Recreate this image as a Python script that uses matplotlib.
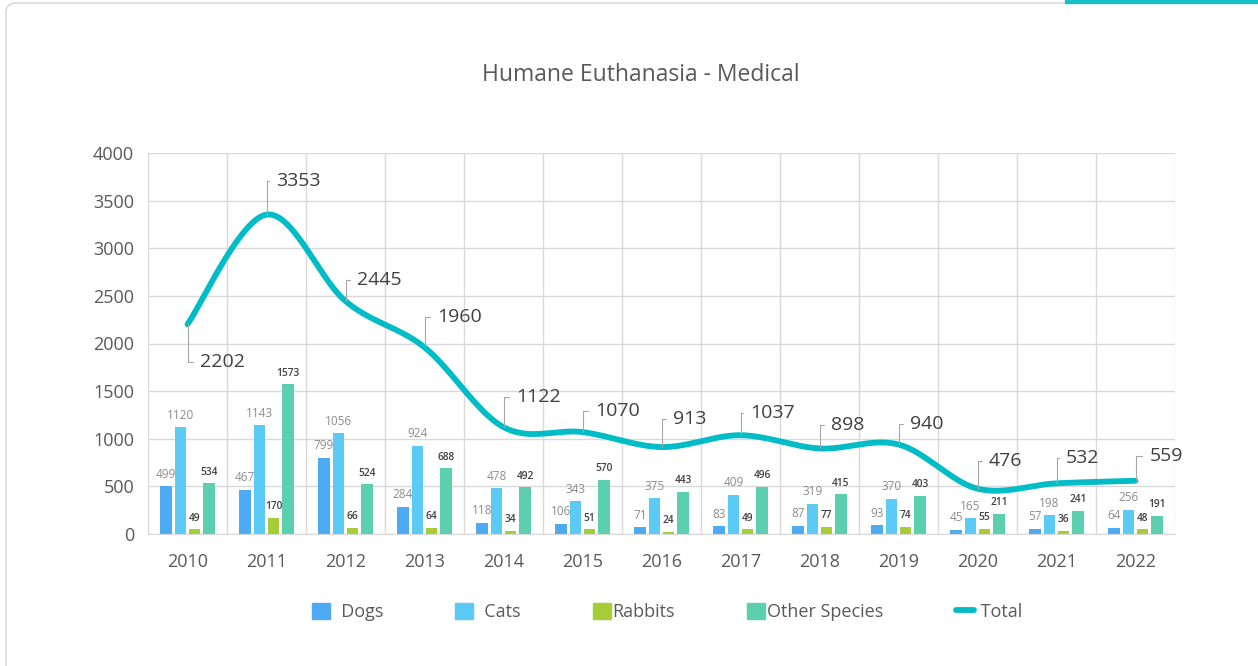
import numpy as np
import matplotlib
matplotlib.use('Agg')
import matplotlib.pyplot as plt
from matplotlib.patches import FancyBboxPatch, Rectangle, Patch
from matplotlib.lines import Line2D
from matplotlib.transforms import IdentityTransform

plt.rcParams['font.family'] = ['Open Sans', 'DejaVu Sans']

# 数据
years = ['2010', '2011', '2012', '2013', '2014', '2015', '2016',
         '2017', '2018', '2019', '2020', '2021', '2022']
dogs = [499, 467, 799, 284, 118, 106, 71, 83, 87, 93, 45, 57, 64]
cats = [1120, 1143, 1056, 924, 478, 343, 375, 409, 319, 370, 165, 198, 256]
rabbits = [49, 170, 66, 64, 34, 51, 24, 49, 77, 74, 55, 36, 48]
other = [534, 1573, 524, 688, 492, 570, 443, 496, 415, 403, 211, 241, 191]
total = [2202, 3353, 2445, 1960, 1122, 1070, 913, 1037, 898, 940, 476, 532, 559]
labels = ['  Dogs', '  Cats', 'Rabbits', 'Other Species', ' Total']

# 标签偏移 (points)
total_label_offsets = [(9, -27), (7, 24), (8, 15), (9, 22), (9, 22), (9, 15),
                       (8, 20), (7, 16), (8, 17), (8, 15), (8, 20), (7, 18), (10, 18)]

colors = ['#4DABF5', '#5BCBF5', '#A6CC37', '#5CCFB0']
line_color = '#00BCC6'

fig = plt.figure(figsize=(12.58, 6.66), dpi=100)
ax = fig.add_axes([148 / 1258, 1 - 534 / 666, (1175 - 148) / 1258, (534 - 153) / 666])

x = np.arange(len(years))
step = 0.181
width = 0.145
series = [dogs, cats, rabbits, other]
for i, s in enumerate(series):
    pos = x + (i - 1.5) * step
    ax.bar(pos, s, width, color=colors[i], zorder=2)
    for px, v in zip(pos, s):
        if i < 2:
            ax.annotate(str(v), (px, v), xytext=(0, 4), textcoords='offset points',
                        ha='center', va='bottom', fontsize=8.5, color='#8C8C8C')
        else:
            ax.annotate(str(v), (px, v), xytext=(0, 4), textcoords='offset points',
                        ha='center', va='bottom', fontsize=7.3, color='#404040',
                        fontweight='semibold')

# 平滑曲线 (Bezier)
pts = np.column_stack([x, total]).astype(float)
ext = np.vstack([pts[0], pts, pts[-1]])
curve = []
t = np.linspace(0, 1, 40)[:, None]
for k in range(len(pts) - 1):
    p0 = ext[k + 1]
    p3 = ext[k + 2]
    c1 = p0 + (ext[k + 2] - ext[k]) / 6
    c2 = p3 - (ext[k + 3] - ext[k + 1]) / 6
    seg = (1 - t) ** 3 * p0 + 3 * (1 - t) ** 2 * t * c1 + 3 * (1 - t) * t ** 2 * c2 + t ** 3 * p3
    curve.append(seg)
curve = np.vstack(curve)
ax.plot(curve[:, 0], curve[:, 1], color=line_color, lw=4.2, solid_capstyle='round', zorder=3)

for xi, v, off in zip(x, total, total_label_offsets):
    ax.annotate(str(v), (xi, v), xytext=off, textcoords='offset points',
                ha='left', va='center', fontsize=14, color='#404040',
                arrowprops=dict(arrowstyle='-', color='#A6A6A6', lw=0.8,
                                connectionstyle='angle,angleA=0,angleB=90,rad=0',
                                relpos=(0, 0.5), shrinkA=3, shrinkB=0),
                zorder=4)

ax.set_xlim(-0.5, len(years) - 0.5)
ax.set_ylim(0, 4000)
ax.set_yticks(np.arange(0, 4001, 500))
ax.set_xticks(x)
ax.set_xticklabels(years)
ax.set_xticks(np.arange(-0.5, len(years), 1), minor=True)
ax.grid(axis='y', color='#D9D9D9', lw=1, zorder=0)
ax.grid(axis='x', which='minor', color='#D9D9D9', lw=1, zorder=0)
ax.grid(axis='x', which='major', visible=False)
ax.tick_params(axis='both', which='both', length=0, labelsize=13, colors='#595959')
ax.tick_params(axis='x', pad=14)
ax.tick_params(axis='y', pad=10)
for sp in ['top', 'right', 'left']:
    ax.spines[sp].set_visible(False)
ax.spines['bottom'].set_color('#D9D9D9')

fig.text(0.509, 1 - 75 / 666, 'Humane Euthanasia - Medical', ha='center', va='center',
         fontsize=16.5, color='#595959')

handles = [Patch(color=c) for c in colors] + [
    Line2D([0], [0], color=line_color, lw=4.2, solid_capstyle='round')]
fig.legend(handles, labels, loc='center', bbox_to_anchor=(0.530, 1 - 612 / 666), ncol=5,
           frameon=False, fontsize=13, labelcolor='#595959', handlelength=1.0,
           handleheight=1.0, handletextpad=0.1, columnspacing=4.0)

# 边框
fig.patches.append(FancyBboxPatch((6, -30), 1300, 663 + 30, boxstyle='round,pad=0,rounding_size=10',
                                  transform=IdentityTransform(), fill=False, edgecolor='#D4D4D4',
                                  lw=1, figure=fig))
fig.patches.append(Rectangle((1065 / 1258, 1 - 3 / 666), 1, 3 / 666, transform=fig.transFigure,
                             color='#17BEC8', figure=fig))

fig.savefig('out.png', dpi=100)
